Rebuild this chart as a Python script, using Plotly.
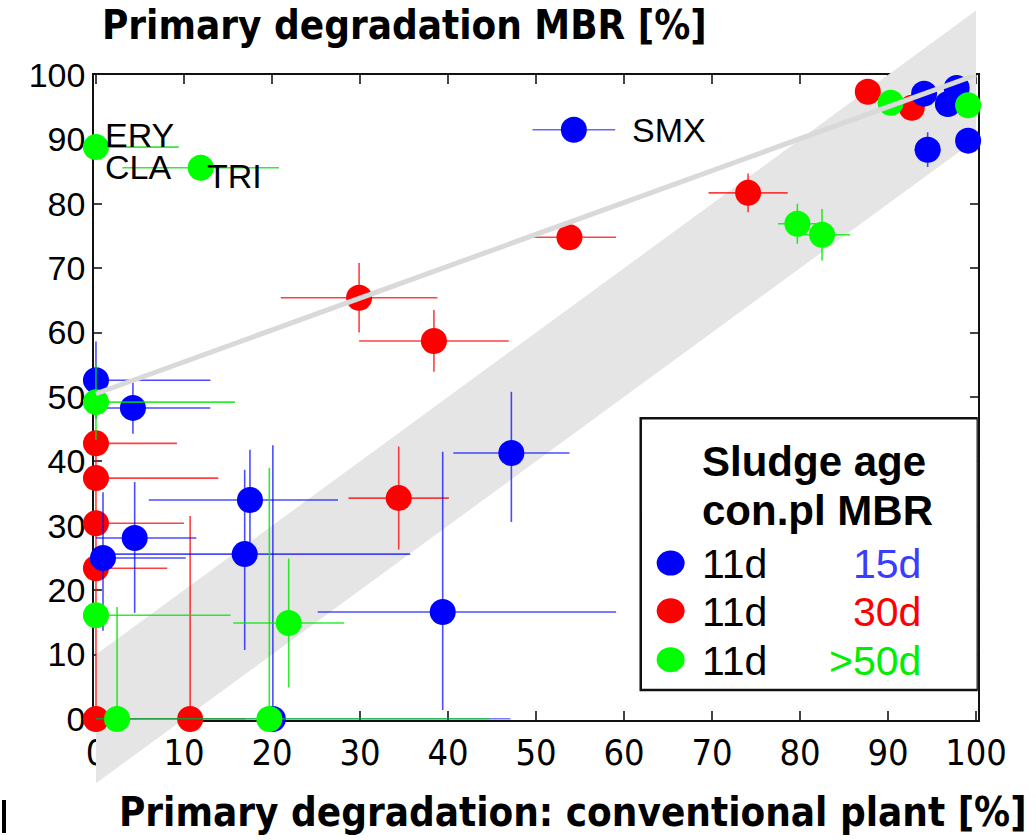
import plotly.graph_objects as go

# Primary degradation [%]: conventional plant (x) vs. MBR (y)
# MBR sludge age 15 d
b_x = [0.0, 4.2, 17.5, 16.9, 0.8, 4.4, 39.4, 47.2, 20.1, 94.1, 97.8, 96.8, 94.5, 99.1]
b_y = [52.6, 48.3, 34.0, 25.6, 25.0, 28.1, 16.6, 41.3, 0.0, 97.1, 98.0, 95.5, 88.4, 89.8]
b_xp = [13.0, 8.8, 10.0, 18.8, 9.4, 7.0, 19.7, 6.6, 27.0, 0, 0, 0, 1.5, 0]
b_xm = [0.0, 3.4, 11.5, 16.1, 0.8, 4.4, 14.2, 6.6, 20.1, 0, 0, 0, 1.5, 0]
b_yp = [6.0, 4.0, 7.8, 13.1, 10.2, 8.7, 24.9, 9.5, 42.5, 0, 0, 0, 2.7, 1.5]
b_ym = [6.0, 4.0, 7.8, 14.9, 11.3, 11.6, 15.2, 10.7, 0.0, 0, 0, 0, 2.7, 1.5]

# MBR sludge age 30 d
r_x = [0.0, 10.7, 0.0, 0.0, 0.0, 0.0, 29.9, 38.4, 34.4, 53.8, 74.1, 87.7, 92.7]
r_y = [0.0, 0.0, 42.8, 37.4, 30.4, 23.4, 65.4, 58.7, 34.3, 74.8, 81.7, 97.4, 94.9]
r_xp = [4.5, 6.3, 9.2, 13.9, 10.0, 8.1, 8.9, 8.5, 5.7, 5.3, 4.5, 1.2, 0]
r_xm = [0.0, 6.3, 0, 0, 0, 0, 8.9, 8.5, 5.7, 5.3, 4.5, 1.2, 0]
r_yp = [43.2, 31.5, 0, 0, 0, 0, 5.4, 4.8, 8.0, 1.5, 3.0, 0, 0]
r_ym = [0.0, 0.0, 0, 0, 0, 0, 5.4, 4.8, 8.0, 1.5, 3.0, 0, 0]

# MBR sludge age >50 d
g_x = [0.0, 11.9, 0.0, 0.0, 2.4, 19.7, 21.9, 79.7, 82.5, 90.3, 99.1]
g_y = [88.8, 85.6, 49.2, 16.1, 0.0, 0.0, 14.9, 76.9, 75.2, 95.7, 95.3]
g_xp = [9.4, 8.9, 15.8, 15.3, 0, 25.0, 6.3, 2.2, 3.2, 0, 0]
g_xm = [0.0, 8.9, 0, 0, 0, 19.7, 6.3, 2.2, 3.2, 0, 0]
g_yp = [0.0, 2.0, 5.9, 0, 17.4, 39.0, 10.0, 3.1, 4.0, 0, 0]
g_ym = [0.0, 2.0, 5.9, 0, 0, 0, 10.0, 3.1, 4.0, 0, 0]

# SMX example point (15 d)
smx_x = [54.3]
smx_y = [91.5]
smx_xerr = [4.7]

# compound labels: (name, x, y)
lbl_names = ["ERY", "CLA", "TRI", "SMX"]
lbl_x = [0.8, 0.8, 12.4, 60.7]
lbl_y = [90.7, 85.7, 84.3, 91.5]

# regression line and +/-10 % band around the 1:1 line
fit_x = [0, 100]
fit_y = [50.5, 100.0]
band_x = [0, 0, 100, 100, 0]
band_y = [-10, 10, 110, 90, -10]

ticks = list(range(0, 101, 10))

# legend rows
leg_left = ["11d", "11d", "11d"]
leg_right = ["15d", "30d", ">50d"]
leg_colors = ["#0000ff", "#ff0000", "#00ff00"]
leg_text_colors = ["#3c3cff", "#ff0000", "#00ee00"]
leg_row_y = [24.0, 16.6, 9.0]

BLUE, RED, GREEN = "#0000ff", "#ff0000", "#00ff00"
FONT_REG = "Liberation Sans, Arial, sans-serif"
FONT_NAR = "DejaVu Sans Condensed, Liberation Sans Narrow, Arial Narrow, sans-serif"

W, H = 1036, 840
XR = [-0.2, 100.2]
YR = [-0.1, 100.0]
XD = [94.2 / W, 977.8 / W]
YD = [(H - 719.6) / H, (H - 75.0) / H]

# y range of the full-height band panel, same scale as the main panel
span = YR[1] - YR[0]
dspan = YD[1] - YD[0]
YR_BAND = [YR[0] - YD[0] * span / dspan, YR[1] + (1 - YD[1]) * span / dspan]

fig = go.Figure()

# frame panel (axes, ticks and tick labels only)
fig.add_trace(go.Scatter(x=[], y=[], xaxis="x", yaxis="y", mode="markers",
                         hoverinfo="skip", showlegend=False))

fig.add_trace(go.Scatter(
    x=band_x, y=band_y, xaxis="x2", yaxis="y2", mode="lines",
    fill="toself", fillcolor="#e5e5e5", line=dict(width=0),
    hoverinfo="skip", showlegend=False))


def series(x, y, xp, xm, yp, ym, color, ecolor):
    return go.Scatter(
        x=x, y=y, xaxis="x3", yaxis="y3", mode="markers",
        marker=dict(color=color, size=26, line=dict(width=0)),
        error_x=dict(type="data", array=xp, arrayminus=xm, symmetric=False,
                     color=ecolor, thickness=1.6, width=0),
        error_y=dict(type="data", array=yp, arrayminus=ym, symmetric=False,
                     color=ecolor, thickness=1.6, width=0),
        cliponaxis=False, showlegend=False)


fig.add_trace(series(r_x, r_y, r_xp, r_xm, r_yp, r_ym, RED, "rgba(255,0,0,0.75)"))
fig.add_trace(series(b_x, b_y, b_xp, b_xm, b_yp, b_ym, BLUE, "rgba(0,0,255,0.7)"))
fig.add_trace(series(g_x, g_y, g_xp, g_xm, g_yp, g_ym, GREEN, "rgba(0,230,0,0.8)"))
fig.add_trace(series(smx_x, smx_y, smx_xerr, smx_xerr, [0], [0], BLUE, "rgba(0,0,255,0.6)"))

fig.add_trace(go.Scatter(
    x=fit_x, y=fit_y, xaxis="x3", yaxis="y3", mode="lines",
    line=dict(color="#d9d9d9", width=5), hoverinfo="skip", showlegend=False))

axis_common = dict(showgrid=False, zeroline=False, automargin=False)
fig.update_layout(
    width=W, height=H,
    margin=dict(l=0, r=0, t=0, b=0, autoexpand=False),
    paper_bgcolor="white", plot_bgcolor="rgba(0,0,0,0)",
    showlegend=False,
    xaxis=dict(domain=XD, range=XR, anchor="y", tickvals=ticks,
               ticks="inside", ticklen=9, tickwidth=1.5, tickcolor="#444",
               showline=True, linecolor="#111", linewidth=2, mirror="ticks",
               tickfont=dict(family=FONT_NAR, size=36, color="black"),
               **axis_common),
    yaxis=dict(domain=YD, range=YR, anchor="x", tickvals=ticks,
               ticks="inside", ticklen=8, tickwidth=1.5, tickcolor="#444",
               showline=True, linecolor="#111", linewidth=2, mirror="ticks",
               tickfont=dict(family=FONT_REG, size=34, color="black"),
               **axis_common),
    xaxis2=dict(domain=XD, range=XR, anchor="y2", visible=False, **axis_common),
    yaxis2=dict(domain=[0, 1], range=YR_BAND, anchor="x2", visible=False, **axis_common),
    xaxis3=dict(domain=XD, range=XR, anchor="y3", visible=False, **axis_common),
    yaxis3=dict(domain=YD, range=YR, anchor="x3", visible=False, **axis_common),
)

annotations = [
    dict(text="<b>Primary degradation MBR [%]</b>", xref="paper", yref="paper",
         x=100 / W, y=(H - 25) / H, xanchor="left", yanchor="middle", showarrow=False,
         font=dict(family=FONT_NAR, size=40, color="black")),
    dict(text="<b>Primary degradation: conventional plant [%]</b>", xref="paper", yref="paper",
         x=573 / W, y=(H - 812) / H, xanchor="center", yanchor="middle", showarrow=False,
         font=dict(family=FONT_NAR, size=40, color="black")),
]
for name, lx, ly in zip(lbl_names, lbl_x, lbl_y):
    annotations.append(dict(text=name, x=lx, y=ly, xref="x3", yref="y3",
                            xanchor="left", yanchor="middle", showarrow=False,
                            font=dict(family=FONT_REG, size=34, color="black")))

# legend panel
shapes = [
    dict(type="rect", xref="x3", yref="y3", x0=61.9, x1=100.2, y0=4.5, y1=46.7,
         fillcolor="white", line=dict(color="#111", width=2.5), layer="above"),
    dict(type="line", xref="paper", yref="paper", x0=4 / W, x1=4 / W,
         y0=(H - 833) / H, y1=(H - 800) / H, line=dict(color="black", width=4)),
]
annotations.append(dict(text="<b>Sludge age</b>", x=68.6, y=40.0, xref="x3", yref="y3",
                        xanchor="left", yanchor="middle", showarrow=False,
                        font=dict(family=FONT_REG, size=42, color="black")))
annotations.append(dict(text="<b>con.pl MBR</b>", x=68.6, y=32.4, xref="x3", yref="y3",
                        xanchor="left", yanchor="middle", showarrow=False,
                        font=dict(family=FONT_REG, size=42, color="black")))
for left, right, mc, tc, ry in zip(leg_left, leg_right, leg_colors, leg_text_colors, leg_row_y):
    shapes.append(dict(type="circle", xref="x3", yref="y3", xsizemode="pixel",
                       ysizemode="pixel", xanchor=65.3, yanchor=ry + 0.2,
                       x0=-14, x1=14, y0=-12.5, y1=12.5,
                       fillcolor=mc, line=dict(width=0), layer="above"))
    annotations.append(dict(text=left, x=68.6, y=ry, xref="x3", yref="y3",
                            xanchor="left", yanchor="middle", showarrow=False,
                            font=dict(family=FONT_REG, size=41, color="black")))
    annotations.append(dict(text=right, x=94.0, y=ry, xref="x3", yref="y3",
                            xanchor="right", yanchor="middle", showarrow=False,
                            font=dict(family=FONT_REG, size=41, color=tc)))

fig.update_layout(annotations=annotations, shapes=shapes)
fig.write_html("out.html")
